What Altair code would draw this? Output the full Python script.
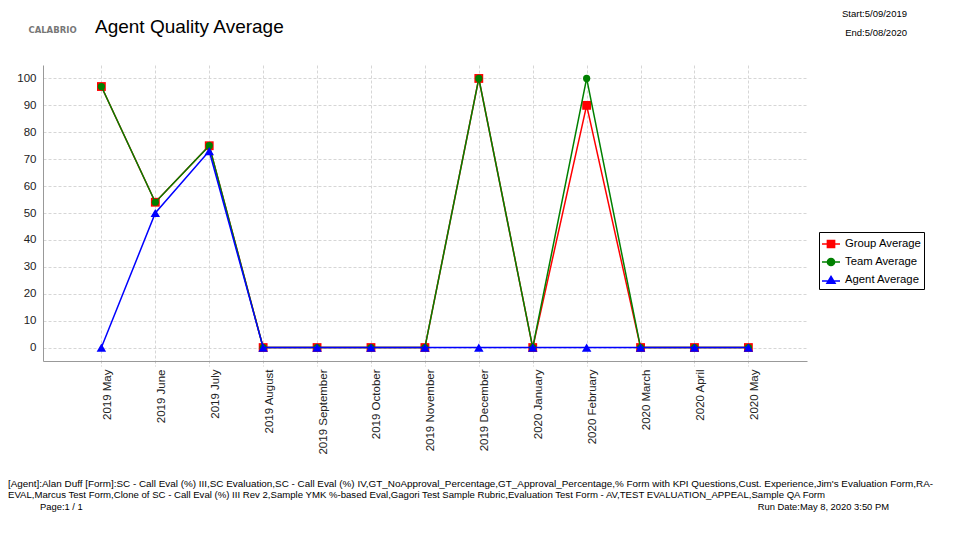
import json
import altair as alt
import pandas as pd

MONTHS = ["2019 May", "2019 June", "2019 July", "2019 August", "2019 September",
          "2019 October", "2019 November", "2019 December", "2020 January",
          "2020 February", "2020 March", "2020 April", "2020 May"]
GROUP_AVG = [97, 54, 75, 0, 0, 0, 0, 100, 0, 90, 0, 0, 0]
TEAM_AVG = [97, 54, 75, 0, 0, 0, 0, 100, 0, 100, 0, 0, 0]
AGENT_AVG = [0, 50, 73, 0, 0, 0, 0, 0, 0, 0, 0, 0, 0]
SERIES = ["Group Average", "Team Average", "Agent Average"]
COLORS = ["#ff0000", "#008000", "#0000ff"]
SHAPES = ["square", "circle", "triangle-up"]
SIZES = [78, 52, 90]
LEGEND_SHAPES = [
    "M-1,0H1M-0.4,-0.4H0.4V0.4H-0.4Z",
    "M-1,0H1M0.4,0A0.4,0.4 0 1 1 -0.4,0A0.4,0.4 0 1 1 0.4,0Z",
    "M-1,0.1H1M0,-0.4L0.45,0.35H-0.45Z",
]
Y_TICKS = list(range(0, 101, 10))
X_TICKS = list(range(len(MONTHS)))

TITLE = "Agent Quality Average"
LOGO = "CALABRIO"
START = "Start:5/09/2019"
END = "End:5/08/2020"
FOOT1 = ("[Agent]:Alan Duff [Form]:SC - Call Eval (%) III,SC Evaluation,SC - Call Eval (%) IV,"
         "GT_NoApproval_Percentage,GT_Approval_Percentage,% Form with KPI Questions,Cust. Experience,"
         "Jim's Evaluation Form,RA-")
FOOT2 = ("EVAL,Marcus Test Form,Clone of SC - Call Eval (%) III Rev 2,Sample YMK %-based Eval,"
         "Gagori Test Sample Rubric,Evaluation Test Form - AV,TEST EVALUATION_APPEAL,Sample QA Form")
PAGE = "Page:1 / 1"
RUNDATE = "Run Date:May 8, 2020 3:50 PM"

FONT = "Liberation Sans"

rows = []
for name, vals in zip(SERIES, [GROUP_AVG, TEAM_AVG, AGENT_AVG]):
    for idx, (m, v) in enumerate(zip(MONTHS, vals)):
        rows.append({"idx": idx, "month": m, "value": v, "series": name})
df = pd.DataFrame(rows)

legend = alt.Legend(
    title=None, orient="none", legendX=776, legendY=167,
    strokeColor="#000000", fillColor="white", padding=2, rowPadding=1,
    symbolSize=324, symbolStrokeWidth=1.5, symbolOpacity=1,
    labelFont=FONT, labelFontSize=11.3, labelColor="#000000", labelOffset=4,
)

x_enc = alt.X("idx:Q",
              scale=alt.Scale(domain=[-1.083, 13.087], nice=False, zero=False),
              axis=alt.Axis(title=None, values=X_TICKS,
                            labelExpr=json.dumps(MONTHS) + "[datum.value]",
                            labelAngle=-90, labelAlign="right", labelBaseline="top",
                            labelFont=FONT, labelFontSize=11.5, labelColor="#222222",
                            labelPadding=3, tickSize=5, tickColor="#cccccc", tickDash=[2, 2],
                            domainColor="#999999", grid=True, gridColor="#d6d6d6",
                            gridDash=[3, 2], labelOverlap=False, labelFlush=False))
y_enc = alt.Y("value:Q",
              scale=alt.Scale(domain=[-5, 105], nice=False, zero=False),
              axis=alt.Axis(title=None, values=Y_TICKS, ticks=False, labelPadding=7,
                            labelFont=FONT, labelFontSize=11.5, labelColor="#222222",
                            domainColor="#999999", grid=True, gridColor="#d6d6d6",
                            gridDash=[3, 2]))
color_scale = alt.Scale(domain=SERIES, range=COLORS)
c_enc = alt.Color("series:N", scale=color_scale, legend=legend)

base = alt.Chart(df)
layers = []
for i, s in enumerate(SERIES):
    sub = base.transform_filter(alt.datum.series == s)
    layers.append(sub.mark_line(strokeWidth=1.5, opacity=1).encode(x=x_enc, y=y_enc, color=c_enc))
    layers.append(sub.mark_point(shape=SHAPES[i], size=SIZES[i], filled=True, opacity=1,
                                 strokeWidth=0).encode(x=x_enc, y=y_enc, color=c_enc))

# legend provider: no marks drawn, only the legend with line+marker symbols
layers.append(
    base.transform_filter("false").mark_point(filled=True, opacity=1, strokeWidth=1.5).encode(
        x=x_enc, y=y_enc,
        color=c_enc,
        stroke=alt.Stroke("series:N", scale=alt.Scale(domain=SERIES, range=COLORS), legend=legend),
        shape=alt.Shape("series:N", scale=alt.Scale(domain=SERIES, range=LEGEND_SHAPES), legend=legend),
    )
)


def txt(t, x, y, size, align="left", color="#000000", weight="normal", font=FONT):
    return alt.Chart(alt.Data(values=[{"t": t}])).mark_text(
        align=align, baseline="alphabetic", font=font, fontSize=size,
        color=color, fontWeight=weight
    ).encode(x=alt.value(x), y=alt.value(y), text="t:N")


layers += [
    txt(LOGO, 9.5, -32, 8.5, align="center", color="#777777", weight="bold", font="DejaVu Sans"),
    txt(TITLE, 52, -32, 19),
    txt(START, 864, -48, 9.5, align="right"),
    txt(END, 864, -29, 9.5, align="right"),
    txt(FOOT1, -35, 422, 9.9),
    txt(FOOT2, -35, 433, 9.6),
    txt(PAGE, -3, 445, 9.4),
    txt(RUNDATE, 846, 445, 9.4, align="right"),
]

chart = alt.layer(*layers).properties(
    width=764, height=296,
    padding={"left": 35, "top": 57, "right": 138, "bottom": 160},
    autosize=alt.AutoSizeParams(type="none"),
).configure_view(stroke=None)

chart.save("out.html", embed_options={"renderer": "svg", "actions": False})
